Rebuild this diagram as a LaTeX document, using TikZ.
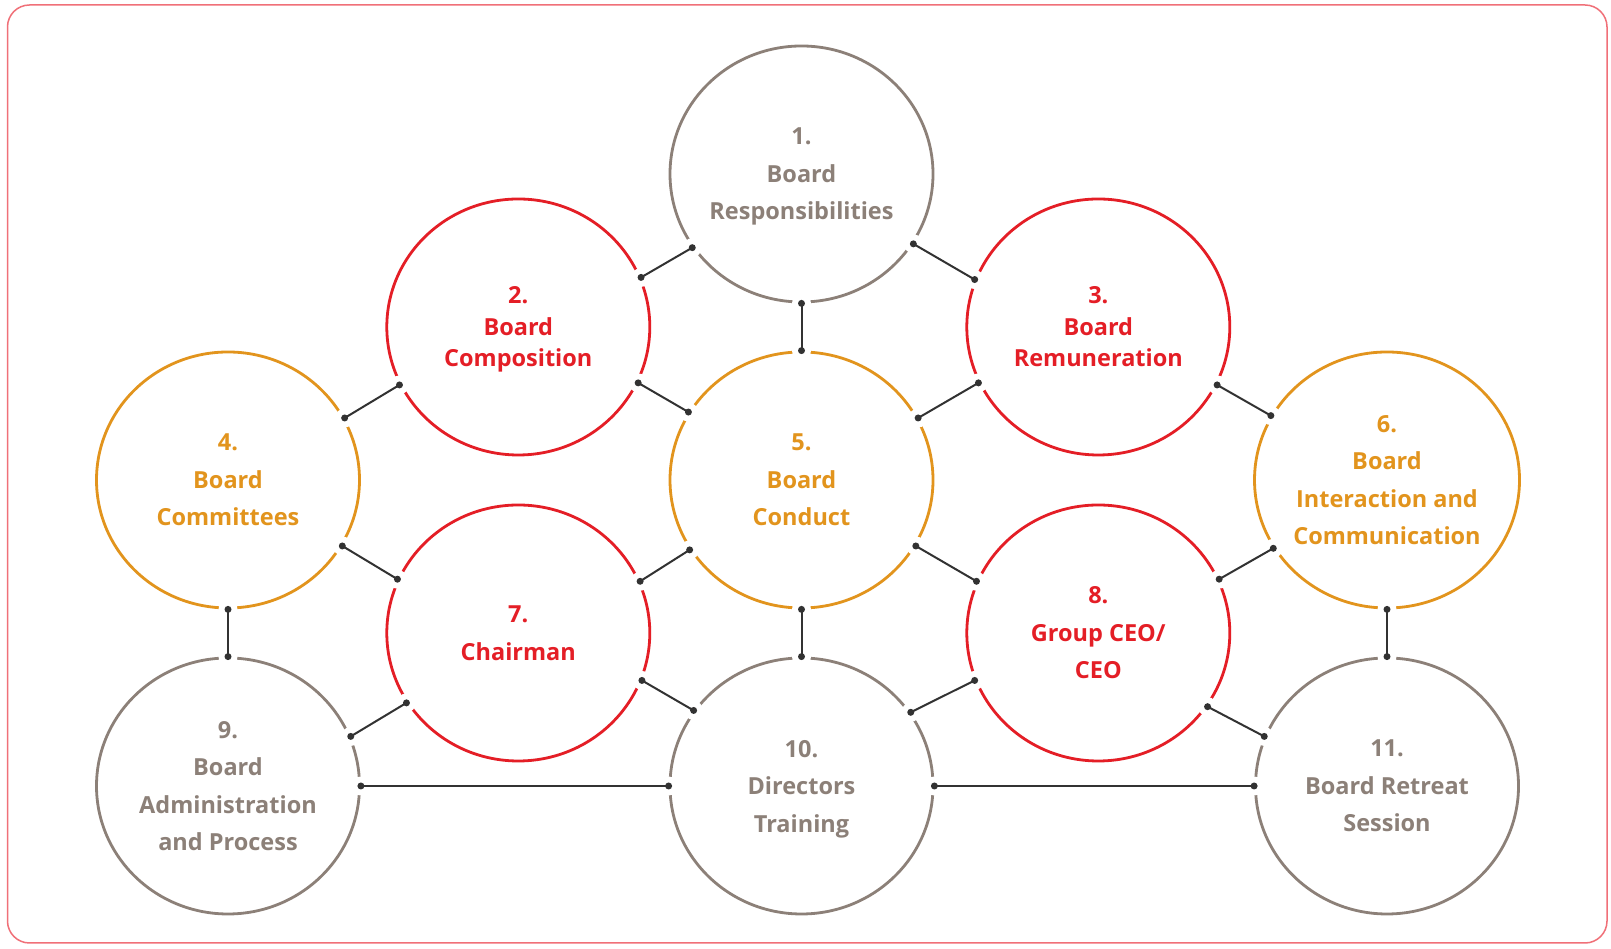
\documentclass[tikz,border=0pt]{standalone}
\usepackage{fontspec}
\setmainfont{Open Sans}
\usepackage{xcolor}
\usepackage{tikz}
\usetikzlibrary{shapes.geometric, positioning}

\definecolor{taupe}{RGB}{140,128,120}
\definecolor{boardred}{RGB}{228,30,38}
\definecolor{amber}{RGB}{226,148,29}
\definecolor{linkgray}{RGB}{50,50,50}
\definecolor{framered}{RGB}{240,112,120}

% link between two circles: gap, line, end dots
\newcommand{\boardlink}[2]{%
  \fill[white] (#1) circle[radius=9.5pt] (#2) circle[radius=9.5pt];
  \draw[link] (#1) -- (#2);
  \fill[linkgray] (#1) circle[radius=3.5pt] (#2) circle[radius=3.5pt];}

\begin{document}
\begin{tikzpicture}[
    x=1pt, y=1pt,
    on grid,
    node distance=153pt and 283pt,
    circ/.style={ellipse, minimum width=263pt, minimum height=256pt, inner sep=0pt,
        text depth=0pt, line width=2.8pt, align=center,
        font=\bfseries\fontsize{23.5}{37.5}\selectfont},
    tcirc/.style={circ, draw=taupe, text=taupe},
    rcirc/.style={circ, draw=boardred, text=boardred},
    ocirc/.style={circ, draw=amber, text=amber},
    tight/.style={font=\bfseries\fontsize{23.5}{31.5}\selectfont},
    link/.style={draw=linkgray, line width=2pt},
    frame/.style={draw=framered, line width=1.5pt, rounded corners=22pt}
]
    \useasboundingbox (0,0) rectangle (1611,949);
    \fill[white] (0,0) rectangle (1611,949);
    \draw[frame] (7.5,6) rectangle (1607,944);

    % Middle row
    \node[ocirc] (c5) at (801.5,469) {5.\\Board\\Conduct};
    \node[ocirc, left=573.5pt of c5] (c4) {4.\\Board\\Committees};
    \node[ocirc, right=585.5pt of c5] (c6) {6.\\Board\\Interaction and\\Communication};

    % Top
    \node[tcirc, above=306pt of c5] (c1) {1.\\Board\\Responsibilities};
    \node[rcirc, tight, above left=153pt and 283.2pt of c5] (c2) {2.\\Board\\Composition};
    \node[rcirc, tight, above right=153pt and 296.8pt of c5] (c3) {3.\\Board\\Remuneration};

    % Bottom
    \node[rcirc, below left=153pt and 283.2pt of c5] (c7) {7.\\Chairman};
    \node[rcirc, below right=153pt and 296.8pt of c5] (c8) {8.\\Group CEO/\\CEO};
    \node[tcirc, below=306pt of c4] (c9) {9.\\Board\\Administration\\and Process};
    \node[tcirc, below=306pt of c5] (c10) {10.\\Directors\\Training};
    \node[tcirc, below=306pt of c6] (c11) {11.\\Board Retreat\\Session};

    % Connections
    \boardlink{c2.22}{c1.214} \boardlink{c1.328}{c3.159} \boardlink{c1.270}{c5.90}
    \boardlink{c4.28}{c2.206} \boardlink{c2.335}{c5.149}
    \boardlink{c5.28}{c3.205} \boardlink{c3.334}{c6.151}
    \boardlink{c4.330}{c7.156} \boardlink{c7.23}{c5.212}
    \boardlink{c5.330}{c8.157} \boardlink{c8.24}{c6.211}
    \boardlink{c4.270}{c9.90} \boardlink{c5.270}{c10.90} \boardlink{c6.270}{c11.90}
    \boardlink{c9.22}{c7.212} \boardlink{c7.339}{c10.145}
    \boardlink{c10.34}{c8.201} \boardlink{c8.326}{c11.158}
    \boardlink{c9.0}{c10.180} \boardlink{c10.0}{c11.180}
\end{tikzpicture}
\end{document}
